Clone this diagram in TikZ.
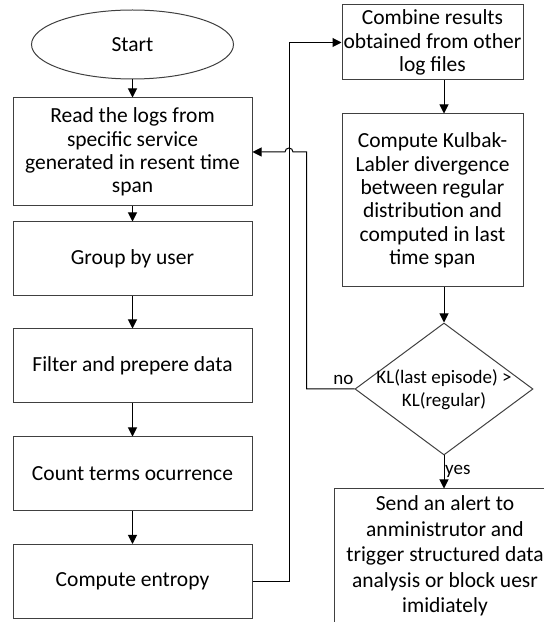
\documentclass[tikz,border=0pt]{standalone}
\usepackage{fontspec}
\setmainfont{Carlito}
\usetikzlibrary{arrows.meta,shapes.geometric,positioning}

\tikzset{
  procbox/.style={draw=black!75, line width=1pt, align=center, inner sep=0pt,
    minimum width=239pt, minimum height=74pt, font=\fontsize{21.5}{23.3}\selectfont},
  sidebox/.style={procbox, minimum width=181pt},
  decision/.style={diamond, draw=black!75, line width=1pt, inner sep=0pt,
    minimum width=178pt, minimum height=132pt},
  flow/.style={-{Triangle[width=9pt,length=9pt]}, line width=1pt},
  lbl/.style={font=\fontsize{19}{23.3}\selectfont, inner sep=1pt}
}

\begin{document}
\begin{tikzpicture}[x=1pt,y=1pt]
  \path[use as bounding box, clip] (0,0) rectangle (544,622);

  % left column
  \node[ellipse, draw=black!75, line width=1pt, minimum width=202pt, minimum height=69pt,
        inner sep=0pt, font=\fontsize{21.5}{23.3}\selectfont] (start) at (132.5,577.5) {Start};
  \node[procbox, minimum height=108pt] (read) at (132.5,470)
    {Read the logs from\\specific service\\generated in resent time\\span};
  \node[procbox] (group) at (132.5,363) {Group by user};
  \node[procbox] (filter) at (132.5,256) {Filter and prepere data};
  \node[procbox] (count) at (132.5,148) {Count terms ocurrence};
  \node[procbox] (entropy) at (132.5,40.5) {Compute entropy};

  % right column
  \node[sidebox, minimum height=75pt] (combine) at (432.5,579.5)
    {Combine results\\obtained from other\\log files};
  \node[sidebox, minimum height=173pt] (kl) at (432.5,421.5)
    {Compute Kulbak-\\Labler divergence\\between regular\\distribution and\\computed in last\\time span};
  \node[decision] (dia) at (444,233) {};
  \node[lbl, align=center] (diatext) at ([yshift=-1pt]dia.center) {KL(last episode) >\\KL(regular)};
  \node[procbox, minimum width=222pt, minimum height=134pt,
        font=\fontsize{21.5}{25.4}\selectfont] (alert) at (445,66)
    {Send an alert to\\anministrutor and\\trigger structured data\\analysis or block uesr\\imidiately};

  \coordinate (hop) at (289,470);

  % arrows
  \draw[flow] (start) -- (read);
  \draw[flow] (read) -- (group);
  \draw[flow] (group) -- (filter);
  \draw[flow] (filter) -- (count);
  \draw[flow] (count) -- (entropy);
  \draw[flow] (entropy.east) -- (entropy.east -| hop) |- (combine.west);
  \draw[flow] (combine.south -| dia.north) -- (kl.north -| dia.north);
  \draw[flow] (kl.south -| dia.north) -- (dia.north);
  \draw[flow] (dia.west) -- ++(-48,0) |- ([xshift=4pt]hop)
    arc[start angle=0, end angle=180, radius=4pt] -- (read.east);
  \draw[flow] (dia.south) -- (alert.north -| dia.south);

  % labels
  \node[lbl, anchor=south east] (nolbl) at ([xshift=0pt,yshift=3pt]dia.west) {no};
  \node[lbl, anchor=west] (yeslbl) at ([yshift=-16pt]dia.south) {yes};
\end{tikzpicture}
\end{document}
